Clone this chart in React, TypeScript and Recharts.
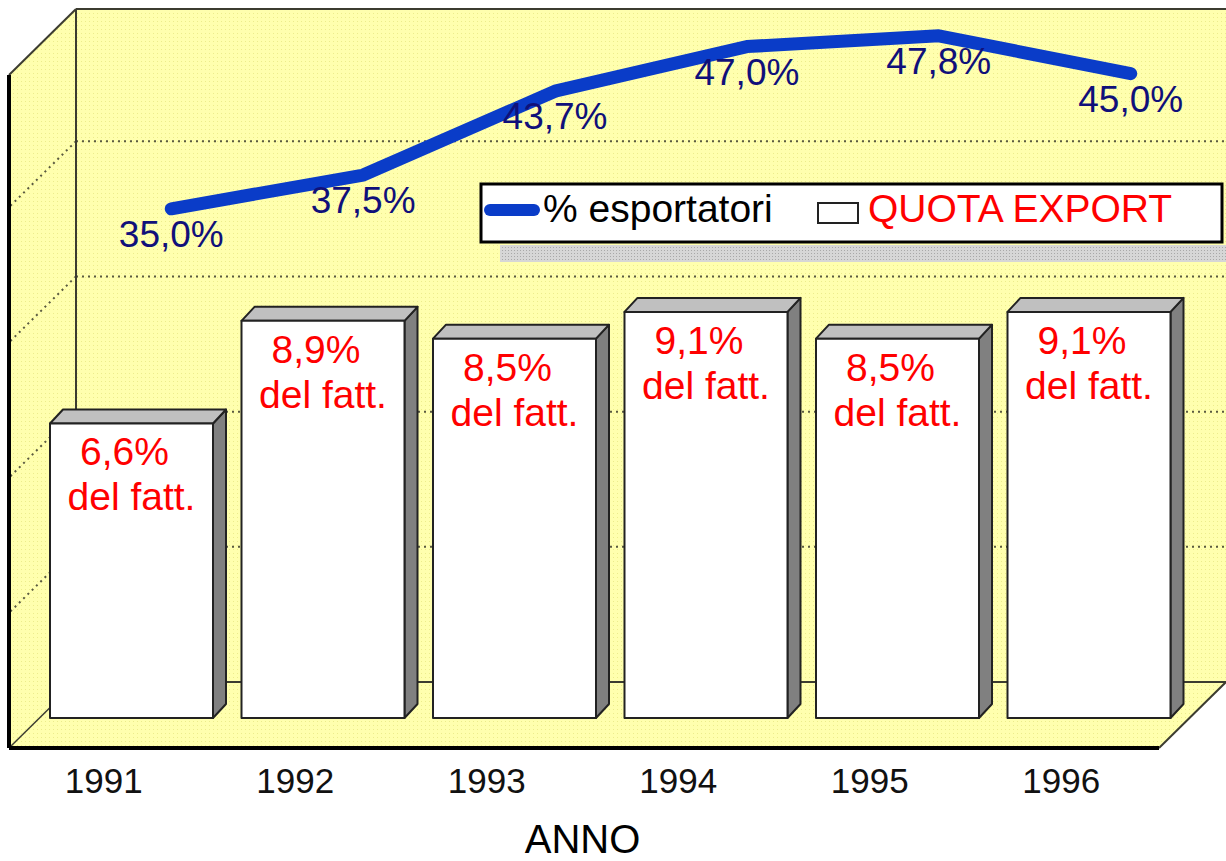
import React from 'react';
import { ComposedChart, Bar, Line, XAxis, YAxis, LabelList } from 'recharts';

// values
const years = ['1991', '1992', '1993', '1994', '1995', '1996'];
const exportShare = [6.6, 8.9, 8.5, 9.1, 8.5, 9.1]; // QUOTA EXPORT, % del fatturato
const exporters = [35.0, 37.5, 43.7, 47.0, 47.8, 45.0]; // % esportatori

const data = years.map((year, i) => ({
  year,
  idx: i,
  share: exportShare[i],
  exporters: exporters[i],
}));

const W = 1226;
const H = 861;
const FONT = '"Liberation Sans", Arial, sans-serif';

// plot plane (the depth where the bars stand)
const MARGIN = { top: 4, right: 41, bottom: 0, left: 36 };
const AXIS_H = 143;
const PLOT_TOP = MARGIN.top;
const PLOT_H = H - AXIS_H - MARGIN.top;

const BAR_DOMAIN: [number, number] = [0, 16];
const LINE_DOMAIN: [number, number] = [-2.66, 50.15];
const LINE_X_DOMAIN: [number, number] = [-0.705, 5.283];

const lineY = (v: number) =>
  PLOT_TOP + ((LINE_DOMAIN[1] - v) / (LINE_DOMAIN[1] - LINE_DOMAIN[0])) * PLOT_H;

// 3d box around the plot
const BACK = { left: 76, right: 1226, top: 9, bottom: 682 };
const FRONT = { dx: -67, dy: 66 };
const BAR_DX = 13;
const BAR_DY = 14;

const fmt = (v: number) => v.toFixed(1).replace('.', ',') + '%';

function Box3D() {
  const { left, right, top, bottom } = BACK;
  const fl = left + FRONT.dx;
  const fr = right + FRONT.dx;
  const fb = bottom + FRONT.dy;
  const ft = top + FRONT.dy;
  const grid = [10, 20, 30, 40].map(lineY);
  return (
    <svg width={W} height={H} style={{ position: 'absolute', left: 0, top: 0 }}>
      <defs>
        <pattern id="wall" width="4" height="4" patternUnits="userSpaceOnUse">
          <rect width="4" height="4" fill="#ffffae" />
          <rect x="1" y="1" width="1" height="1" fill="#ecec8c" />
        </pattern>
        <pattern id="shadow" width="3" height="3" patternUnits="userSpaceOnUse">
          <rect width="3" height="3" fill="#d6d6d6" />
          <rect x="1" y="1" width="1" height="1" fill="#a8a8a8" />
        </pattern>
      </defs>
      <rect x={left} y={top} width={right - left} height={bottom - top} fill="url(#wall)" />
      <polygon points={`${left},${top} ${left},${bottom} ${fl},${fb} ${fl},${ft}`} fill="url(#wall)" />
      <polygon points={`${left},${bottom} ${right},${bottom} ${fr},${fb} ${fl},${fb}`} fill="url(#wall)" />

      {grid.map((g, i) => (
        <g key={i} stroke="#5a5a40" strokeWidth={2} strokeDasharray="2 4">
          <line x1={left} y1={g} x2={right} y2={g} />
          <line x1={left} y1={g} x2={fl} y2={g + FRONT.dy} />
        </g>
      ))}

      <g stroke="#3c3c30" strokeWidth={2} fill="none">
        <line x1={left} y1={top} x2={right} y2={top} />
        <line x1={fl} y1={ft} x2={left} y2={top} />
        <line x1={left} y1={top} x2={left} y2={bottom} />
        <line x1={left} y1={bottom} x2={right} y2={bottom} />
        <line x1={left} y1={bottom} x2={fl} y2={fb} strokeWidth={1.5} />
        <line x1={right} y1={bottom} x2={fr} y2={fb} />
      </g>
      <g stroke="#000" strokeWidth={4}>
        <line x1={fl} y1={fb} x2={fr} y2={fb} />
        <line x1={fl} y1={ft} x2={fl} y2={fb} />
      </g>

      {/* legend */}
      <rect x={500} y={245} width={726} height={17} fill="url(#shadow)" />
      <rect x={481} y={184} width={741} height={58} fill="#fff" stroke="#000" strokeWidth={3} />
      <line x1={490} y1={210} x2={534} y2={210} stroke="#0a3cc8" strokeWidth={12} strokeLinecap="round" />
      <text x={543} y={222} fontSize={39} fontFamily={FONT} fill="#000">% esportatori</text>
      <rect x={818} y={203} width={40} height={20} fill="#fff" stroke="#222" strokeWidth={2} />
      <text x={868} y={222} fontSize={39} fontFamily={FONT} fill="#ff0000">QUOTA EXPORT</text>
    </svg>
  );
}

function Bar3D(props: any) {
  const { x, y, width, height } = props;
  const r = x + width;
  const b = y + height;
  return (
    <g stroke="#222" strokeWidth={2} strokeLinejoin="round">
      <polygon points={`${r},${y} ${r + BAR_DX},${y - BAR_DY} ${r + BAR_DX},${b - BAR_DY} ${r},${b}`} fill="#808080" />
      <polygon points={`${x},${y} ${x + BAR_DX},${y - BAR_DY} ${r + BAR_DX},${y - BAR_DY} ${r},${y}`} fill="#c0c0c0" />
      <rect x={x} y={y} width={width} height={height} fill="#fff" />
    </g>
  );
}

function BarLabel(props: any) {
  const { x, y, width, value } = props;
  const cx = x + width / 2;
  return (
    <g fontFamily={FONT} fontSize={39} fill="#ff0000" textAnchor="middle">
      <text x={cx - 7} y={y + 42}>{fmt(value)}</text>
      <text x={cx} y={y + 87}>del fatt.</text>
    </g>
  );
}

function LineLabel(props: any) {
  const { x, y, value } = props;
  return (
    <text x={x} y={y + 38} fontFamily={FONT} fontSize={37} fill="#10107a" textAnchor="middle">
      {fmt(value)}
    </text>
  );
}

function YearTick(props: any) {
  const { x, y, payload } = props;
  return (
    <text x={x - 28} y={y + 67} fontFamily={FONT} fontSize={35} fill="#111" textAnchor="middle">
      {payload.value}
    </text>
  );
}

function AxisTitle(props: any) {
  const { viewBox } = props;
  return (
    <text
      x={viewBox.x + viewBox.width / 2 - 28}
      y={viewBox.y + 135}
      fontFamily={FONT}
      fontSize={40}
      fill="#000"
      textAnchor="middle"
    >
      ANNO
    </text>
  );
}

export default function App() {
  return (
    <div style={{ position: 'absolute', left: 0, top: 0, width: W, height: H, background: '#fff' }}>
      <Box3D />
      <div style={{ position: 'absolute', left: 0, top: 0 }}>
        <ComposedChart width={W} height={H} data={data} margin={MARGIN}>
          <XAxis
            xAxisId="bars"
            dataKey="year"
            height={AXIS_H}
            axisLine={false}
            tickLine={false}
            interval={0}
            tick={<YearTick />}
            label={<AxisTitle />}
          />
          <XAxis xAxisId="line" type="number" dataKey="idx" domain={LINE_X_DOMAIN} hide />
          <YAxis yAxisId="bars" domain={BAR_DOMAIN} hide />
          <YAxis yAxisId="line" domain={LINE_DOMAIN} hide />
          <Bar
            xAxisId="bars"
            yAxisId="bars"
            dataKey="share"
            barSize={163}
            shape={<Bar3D />}
            isAnimationActive={false}
          >
            <LabelList dataKey="share" content={<BarLabel />} />
          </Bar>
          <Line
            xAxisId="line"
            yAxisId="line"
            dataKey="exporters"
            type="linear"
            stroke="#0a3cc8"
            strokeWidth={13}
            strokeLinecap="round"
            strokeLinejoin="round"
            dot={false}
            activeDot={false}
            isAnimationActive={false}
          >
            <LabelList dataKey="exporters" content={<LineLabel />} />
          </Line>
        </ComposedChart>
      </div>
    </div>
  );
}
